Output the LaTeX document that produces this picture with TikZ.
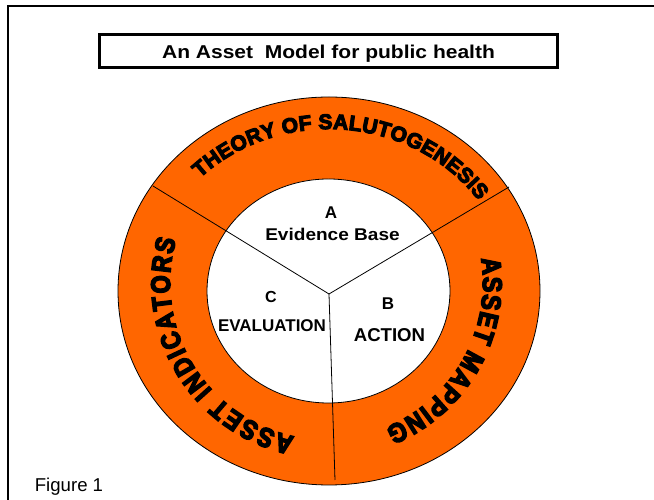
\documentclass[tikz,border=0pt]{standalone}
\usepackage{fontspec}
\setmainfont{Liberation Sans}
\newfontfamily\arcfont[FakeBold=5.5]{Liberation Sans Bold}
\newfontfamily\arcnarrow[FakeBold=5.5,FakeStretch=0.86]{Liberation Sans Bold}
\usetikzlibrary{decorations.text}
\definecolor{ringorange}{HTML}{FF6600}
\newcommand\arcTop{\arcfont\fontsize{21}{25}\selectfont}
\newcommand\arcSide{\arcnarrow\fontsize{27}{31}\selectfont}
\tikzset{
  lbl/.style={font=\bfseries\fontsize{17}{20}\selectfont, inner sep=0pt, anchor=base},
  ringline/.style={draw=black, line width=0.8pt},
  divider/.style={draw=black, line width=0.8pt},
}
\begin{document}
\begin{tikzpicture}[x=1pt,y=1pt]
\useasboundingbox (0,0) rectangle (654,500);
\fill[white] (0,0) rectangle (654,500);
% outer frame
\draw[line width=2pt] (8.3,-10) -- (8.3,494.3) -- (680,494.3);
% title
\draw[line width=3pt] (99.5,432.5) rectangle (557,465.5);
\node[font=\bfseries\fontsize{18.6}{22}\selectfont, inner sep=0pt, anchor=base] (title) at (328.5,441.7)
  {\scalebox{1.13}[1]{An Asset~ Model for public health}};
% ring
\coordinate (O) at (329,209);
\fill[ringorange, ringline] (O) ellipse [x radius=211, y radius=194];
\fill[white, ringline] (328.5,209) ellipse [x radius=121.5, y radius=112];
% dividers
\coordinate (J) at (329,206);
\coordinate (UL) at (153,314);
\coordinate (UR) at (509,313);
\coordinate (BT) at (335,20);
\draw[divider] (J) -- (UL);
\draw[divider] (J) -- (UR);
\draw[divider] (J) -- (BT);
% curved texts
\coordinate (TT) at (329,200);
\coordinate (T0) at (327,217);
\path[decorate, decoration={text along path, text={|\arcTop|THEORY OF SALUTOGENESIS}, text align={fit to path}}]
  (TT) ++(134.5:184 and 171) arc[start angle=134.5, end angle=35.5, x radius=184, y radius=171];
\path[decorate, decoration={text along path, text={|\arcSide|ASSET MAPPING}, text align={fit to path}}]
  (T0) ++(9:156) arc[start angle=9, end angle=-68, radius=156];
\path[decorate, decoration={text along path, text={|\arcSide|ASSET INDICATORS}, text align={fit to path}}]
  (T0) ++(258:157) arc[start angle=258, end angle=164, radius=157];
% inner labels
\node[lbl] (a) at (331,281) {A};
\node[lbl] (ev) at (332.5,259) {\scalebox{1.12}[1]{Evidence Base}};
\node[lbl, font=\bfseries\fontsize{16}{19}\selectfont] (c) at (271,197) {C};
\node[lbl] (evl) at (272,168.3) {EVALUATION};
\node[lbl] (b) at (388,190) {B};
\node[lbl, font=\bfseries\fontsize{18.6}{22}\selectfont] (act) at (389.5,158) {ACTION};
% caption
\node[font=\fontsize{18.6}{22}\selectfont, inner sep=0pt, anchor=base] (fig) at (69,8) {Figure 1};
\end{tikzpicture}
\end{document}
